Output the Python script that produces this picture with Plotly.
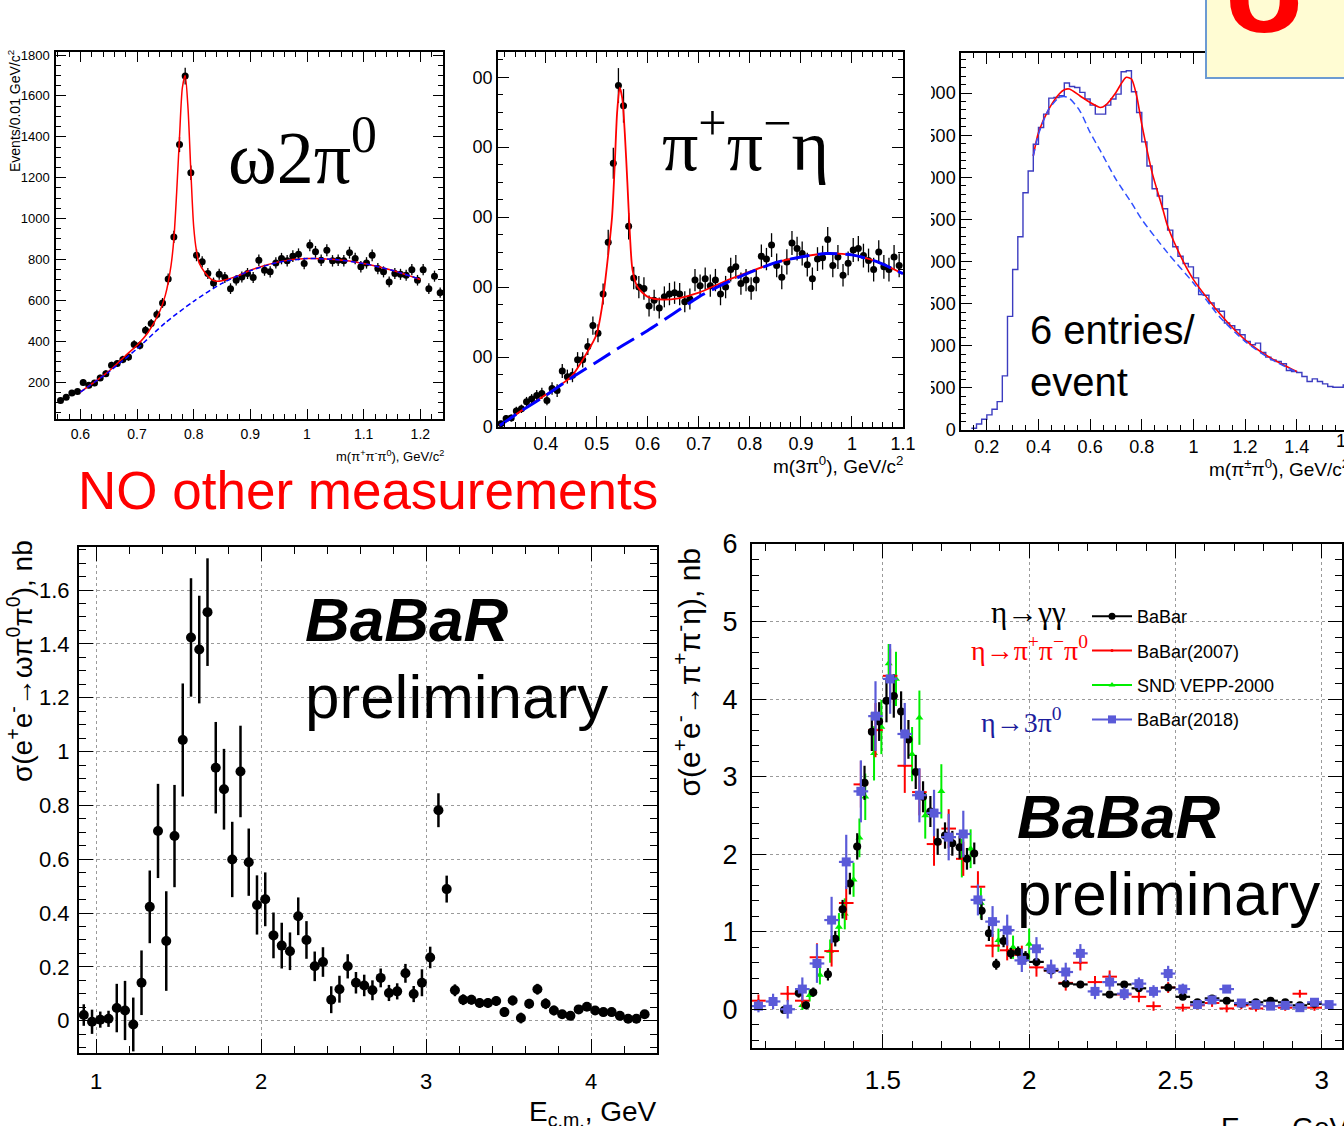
import plotly.graph_objects as go

W, H = 1344, 1126
def PX(px): return px / W
def PY(py): return 1 - py / H

SANS = "Liberation Sans, Arial"
SERIF = "Liberation Serif, Times New Roman"

# ---------------- Panel 1: m(pi+ pi- pi0) ----------------
p1_x = [round(0.565 + 0.01 * i, 3) for i in range(68)]
p1_y = [110,126,146,154,198,184,195,220,241,282,
        290,310,322,384,379,453,486,531,587,704,
        910,1362,1697,1224,820,788,731,685,727,711,
        657,698,714,731,711,796,747,739,783,804,
        793,816,825,780,869,837,796,845,793,796,
        793,833,804,764,783,820,755,739,690,731,
        727,722,750,698,750,657,718,637]
p1_err = [12,12,13,13,15,14,15,15,16,17,
          17,18,18,20,20,21,22,23,24,27,
          30,37,41,35,29,28,27,26,27,27,
          26,26,27,27,27,28,27,27,28,28,
          28,29,29,28,29,29,28,29,28,28,
          28,29,28,28,28,29,28,27,26,27,
          27,27,27,26,27,26,27,25]
p1_fit_x = [0.6,0.65,0.68,0.7,0.72,0.74,0.75,0.76,0.765,0.77,0.775,0.78,0.785,0.79,0.795,0.8,
            0.805,0.81,0.82,0.83,0.84,0.85,0.86,0.88,0.9,0.95,1.0,1.05,1.1,1.15,1.2]
p1_fit_y = [151,252,330,380,445,545,625,770,900,1130,1400,1640,1700,1540,1230,960,
            840,780,735,705,693,695,703,722,747,788,804,799,780,747,702]
p1_bkg_x = [0.6,0.65,0.7,0.75,0.8,0.85,0.9,0.95,1.0,1.05,1.1,1.15,1.2]
p1_bkg_y = [151,249,363,490,595,683,745,786,804,799,780,747,702]

# ---------------- Panel 2: m(3pi0) ----------------
p2_x = [round(0.3125 + 0.01 * i, 4) for i in range(79)]
p2_y = [4.8,12,13,23,26,36,40,45,48,38,
        55,52,80,72,74,96,96,115,145,134,
        190,264,377,488,459,287,213,200,198,173,
        181,170,186,190,192,190,179,183,210,202,
        212,202,210,190,200,225,229,205,210,198,
        210,244,240,260,231,214,236,263,255,248,
        232,212,240,242,268,231,243,217,234,253,
        255,245,238,225,250,229,225,243,231]
p2_err = [4,5,5,6,6,7,7,8,8,7,
          9,9,10,10,10,11,11,12,13,13,
          15,18,22,25,24,19,16,16,16,15,
          15,15,15,16,16,16,15,15,16,16,
          16,16,16,16,16,17,17,16,16,16,
          16,17,16,17,17,17,18,17,17,17,
          17,16,17,17,18,17,17,16,17,17,
          18,17,17,17,17,17,17,17,17]
p2_fit_x = [0.31,0.35,0.4,0.45,0.48,0.5,0.51,0.52,0.53,0.535,0.54,0.545,0.55,0.555,0.56,0.565,
            0.57,0.58,0.6,0.63,0.66,0.7,0.75,0.8,0.85,0.9,0.95,1.0,1.05,1.1]
p2_fit_y = [2,22,46,72,105,133,170,230,300,370,450,485,470,420,350,275,
            225,200,186,182,184,192,208,222,235,243,248,246,236,219]
p2_bkg_x = [0.31,0.35,0.4,0.45,0.5,0.55,0.6,0.65,0.7,0.75,0.8,0.85,0.9,0.95,1.0,1.05,1.1]
p2_bkg_y = [2,22,45,70,93,116,138,162,186,205,221,235,243,248,246,236,219]

# ---------------- Panel 3: m(pi+- pi0) histogram ----------------
p3_counts = [20,71,127,179,246,337,643,1349,1905,2294,
             2817,3075,3393,3591,3750,3940,3948,3968,4119,4079,
             4067,4008,3929,3857,3750,3750,3857,3929,3988,4254,
             4266,4016,3770,3421,3135,2865,2778,2627,2373,2175,
             2063,1976,1937,1806,1607,1599,1508,1437,1409,1270,
             1238,1190,1131,1052,1012,1032,921,865,833,813,
             786,706,694,683,635,575,607,575,548,516,
             508,508,536]
p3_edges = [round(0.14 + 0.02 * i, 2) for i in range(len(p3_counts) + 1)]
p3_fit_x = [0.38,0.4,0.44,0.48,0.5,0.52,0.56,0.6,0.64,0.66,0.7,0.72,0.74,0.76,0.78,0.8,
            0.84,0.88,0.9,0.96,1.0,1.1,1.2,1.3,1.4]
p3_fit_y = [3254,3532,3810,3990,4040,4048,3968,3889,3829,3857,4008,4110,4187,4167,3968,3631,
            3056,2639,2421,2004,1786,1389,1071,853,694]
p3_bkg_x = [0.38,0.4,0.44,0.48,0.5,0.52,0.56,0.6,0.64,0.7,0.76,0.8,0.9,1.0,1.1,1.2,1.3,1.4]
p3_bkg_y = [3254,3512,3810,3948,3960,3937,3790,3532,3313,2976,2698,2500,2103,1746,1349,1052,841,687]

# ---------------- Panel 4: sigma(ee -> omega pi0 pi0) ----------------
p4_x = [round(0.925 + 0.05 * i, 3) for i in range(69)]
p4_y = [0.021,-0.004,0.004,0.007,0.047,0.038,-0.014,0.141,0.423,0.705,
        0.296,0.686,1.043,1.424,1.379,1.518,0.940,0.860,0.599,0.926,
        0.589,0.430,0.451,0.317,0.279,0.258,0.388,0.300,0.202,0.218,
        0.078,0.117,0.202,0.141,0.131,0.113,0.159,0.103,0.109,0.176,
        0.099,0.141,0.235,0.782,0.489,0.113,0.078,0.078,0.066,0.066,
        0.073,0.032,0.075,0.010,0.063,0.117,0.063,0.038,0.024,0.018,
        0.042,0.052,0.038,0.032,0.032,0.018,0.007,0.007,0.024]
p4_err = [0.04,0.045,0.03,0.03,0.09,0.11,0.1,0.12,0.135,0.175,
          0.185,0.19,0.21,0.22,0.2,0.2,0.17,0.15,0.14,0.17,
          0.125,0.11,0.1,0.085,0.085,0.07,0.07,0.07,0.055,0.055,
          0.05,0.05,0.045,0.04,0.04,0.037,0.035,0.03,0.03,0.035,
          0.03,0.05,0.04,0.063,0.05,0.022,0.02,0.018,0.018,0.018,
          0.018,0.018,0.018,0.02,0.018,0.02,0.02,0.018,0.016,0.016,
          0.016,0.016,0.016,0.016,0.016,0.016,0.016,0.016,0.016]

# ---------------- Panel 5: sigma(ee -> pi+ pi- eta) ----------------
bb_x = [1.1625,1.2125,1.2375,1.2625,1.3125,
        1.3375,1.3625,1.3875,1.4125,1.4375,1.4625,1.4875,1.5125,1.5375,1.5625,1.5875,1.6125,1.6375,
        1.6625,1.6875,1.7125,1.7375,1.7625,1.7875,1.8125,1.8375,1.8625,1.8875,1.9125,1.9375,1.9625,1.9875,
        2.025,2.075,2.125,2.175,2.275,2.325,2.375,
        2.475,2.525,2.575,2.625,2.675,2.725,2.775,2.825,2.875,2.925,2.975]
bb_y = [-0.01,0.21,0.05,0.22,0.45,
        0.91,1.29,1.62,2.10,2.92,3.58,3.71,3.98,4.04,3.84,3.48,3.06,2.74,
        2.55,2.16,2.24,2.14,2.09,1.94,2.01,1.27,0.98,0.58,0.88,0.72,0.74,0.68,
        0.61,0.50,0.33,0.32,0.19,0.32,0.27,
        0.28,0.16,0.09,0.14,0.11,0.07,0.09,0.11,0.09,0.05,0.07]
bb_ey = [0.05,0.06,0.05,0.06,0.08,0.1,0.12,0.14,0.17,0.22,
         0.25,0.25,0.28,0.28,0.26,0.25,0.22,0.2,0.2,0.17,
         0.17,0.16,0.15,0.14,0.14,0.12,0.1,0.07,0.08,0.07,
         0.07,0.07,0.05,0.05,0.04,0.04,0.03,0.03,0.03,0.03,
         0.02,0.02,0.02,0.02,0.02,0.02,0.02,0.02,0.02,0.02]
bb_ex = [0.0125] * 32 + [0.025] * 18

b07_x = [1.075,1.175,1.225,1.275,1.325,1.375,1.425,1.475,1.525,1.575,
         1.625,1.675,1.725,1.775,1.825,1.875,1.925,1.975,2.025,2.075,
         2.125,2.175,2.225,2.275,2.325,2.375,2.425,2.475,2.525,2.575,
         2.625,2.675,2.725,2.775,2.825,2.875,2.925,2.975]
b07_y = [0.11,0.20,0.11,0.67,0.75,1.37,2.90,3.6,4.30,3.14,
         2.80,2.13,2.33,1.94,1.58,0.82,0.76,0.70,0.54,0.50,
         0.34,0.60,0.35,0.42,0.19,0.16,0.04,0.28,0.02,0.05,
         0.08,0.01,0.05,0.01,0.04,0.02,0.20,0.02]
b07_ey = [0.08,0.1,0.08,0.18,0.2,0.22,0.3,0.35,0.35,0.35,
          0.3,0.28,0.25,0.22,0.2,0.15,0.13,0.12,0.12,0.1,
          0.1,0.1,0.08,0.08,0.07,0.07,0.06,0.07,0.05,0.05,
          0.05,0.05,0.05,0.04,0.04,0.04,0.05,0.04]

snd_x = [1.225,1.25,1.285,1.32,1.35,1.37,1.40,1.42,1.44,1.47,1.495,1.52,
         1.545,1.60,1.625,1.645,1.70,1.77,1.80,1.835,1.895,1.945,2.0]
snd_y = [0.05,0.18,0.44,0.75,1.06,1.23,1.67,2.21,2.74,3.30,3.64,4.46,
         4.26,3.29,3.76,2.50,2.81,1.95,2.07,1.37,0.89,0.80,0.84]
snd_ey = [0.06,0.08,0.12,0.15,0.18,0.2,0.22,0.25,0.3,0.35,0.35,0.25,
          0.35,0.35,0.35,0.3,0.35,0.25,0.25,0.2,0.15,0.15,0.2]

b18_x = [1.075,1.125,1.175,1.225,1.275,1.325,1.375,1.425,1.475,1.525,
         1.575,1.625,1.675,1.725,1.775,1.825,1.875,1.925,1.975,2.025,
         2.075,2.125,2.175,2.225,2.275,2.325,2.375,2.425,2.475,2.525,
         2.575,2.625,2.675,2.725,2.775,2.825,2.875,2.925,2.975,3.025]
b18_y = [0.04,0.10,0.00,0.26,0.59,1.15,1.90,2.81,3.78,4.26,
         3.55,2.76,2.53,2.22,2.26,1.41,1.13,1.02,0.63,0.78,
         0.52,0.48,0.72,0.23,0.35,0.20,0.33,0.23,0.46,0.26,
         0.06,0.12,0.26,0.08,0.06,0.04,0.05,0.02,0.09,0.06]
b18_ey = [0.08,0.1,0.12,0.15,0.25,0.3,0.35,0.4,0.45,0.45,
          0.4,0.35,0.3,0.3,0.3,0.2,0.2,0.2,0.15,0.15,
          0.12,0.12,0.12,0.1,0.1,0.08,0.08,0.08,0.1,0.07,
          0.05,0.05,0.05,0.04,0.04,0.04,0.04,0.03,0.03,0.03]

legend_names = ["BaBar", "BaBar(2007)", "SND VEPP-2000", "BaBar(2018)"]
C_BLACK, C_RED, C_GREEN, C_BLUE = "black", "#ff0000", "#00ee00", "#5a5ad8"

fig = go.Figure()

def pts(x, y, ey, xa, ya, size=7, thick=1.3, color="black", symbol="circle", ex=None):
    d = dict(x=x, y=y, mode="markers", xaxis=xa, yaxis=ya, showlegend=False,
             marker=dict(color=color, size=size, symbol=symbol, line=dict(width=0)),
             error_y=dict(type="data", array=ey, color=color, thickness=thick, width=0))
    if ex is not None:
        d["error_x"] = dict(type="data", array=ex, color=color, thickness=thick, width=0)
    return go.Scatter(**d)

def curve(x, y, xa, ya, color, width=1.5, dash="solid"):
    return go.Scatter(x=x, y=y, mode="lines", xaxis=xa, yaxis=ya, showlegend=False,
                      line=dict(color=color, width=width, dash=dash, shape="spline", smoothing=0.7))

# panel 1
fig.add_trace(pts(p1_x, p1_y, p1_err, "x", "y"))
fig.add_trace(curve(p1_fit_x, p1_fit_y, "x", "y", "#ff0000"))
fig.add_trace(curve(p1_bkg_x, p1_bkg_y, "x", "y", "#0000ff", 1.5, "5px,3px"))
# panel 2
fig.add_trace(pts(p2_x, p2_y, p2_err, "x2", "y2"))
fig.add_trace(curve(p2_fit_x, p2_fit_y, "x2", "y2", "#ff0000", 1.8))
fig.add_trace(curve(p2_bkg_x, p2_bkg_y, "x2", "y2", "#0000ff", 3, "20px,8px"))
# panel 3
fig.add_trace(go.Scatter(x=p3_edges, y=p3_counts + [p3_counts[-1]], mode="lines", xaxis="x3", yaxis="y3",
                         showlegend=False, line=dict(color="#3c3cc0", width=1.4, shape="hv")))
fig.add_trace(curve(p3_fit_x, p3_fit_y, "x3", "y3", "#ff0000", 1.6))
fig.add_trace(curve(p3_bkg_x, p3_bkg_y, "x3", "y3", "#3050ff", 1.5, "7px,4px"))
# panel 4
fig.add_trace(pts(p4_x, p4_y, p4_err, "x4", "y4", size=10, thick=2.5))
# panel 5
fig.add_trace(pts(snd_x, snd_y, snd_ey, "x5", "y5", size=7, thick=2, color=C_GREEN, symbol="triangle-up"))
fig.add_trace(pts(b07_x, b07_y, b07_ey, "x5", "y5", size=3, thick=2, color=C_RED,
                  ex=[0.025] * len(b07_x)))
fig.add_trace(pts(bb_x, bb_y, bb_ey, "x5", "y5", size=8, thick=2.2, color=C_BLACK, ex=bb_ex))
fig.add_trace(pts(b18_x, b18_y, b18_ey, "x5", "y5", size=9, thick=2.2, color=C_BLUE, symbol="square",
                  ex=[0.025] * len(b18_x)))

# legend entries
for name, col, sym, sz, grp in zip(legend_names, [C_BLACK, C_RED, C_GREEN, C_BLUE],
                                   ["circle", "circle", "triangle-up", "square"], [7, 3, 6, 8],
                                   ["g1", "g2", "g3", "g4"]):
    fig.add_trace(go.Scatter(x=[None], y=[None], mode="lines+markers", name=name, xaxis="x5", yaxis="y5",
                             legendgroup=grp, line=dict(color=col, width=2),
                             marker=dict(color=col, symbol=sym, size=sz)))

AX = dict(showline=True, linecolor="black", mirror="allticks", ticks="inside", tickcolor="black",
          zeroline=False, showgrid=False, linewidth=1.5, tickwidth=1.2)

def minor(dt, t0, ln):
    return dict(ticks="inside", dtick=dt, tick0=t0, ticklen=ln, tickcolor="black", tickwidth=1, showgrid=False)

GRID = dict(showgrid=True, griddash="dot", gridcolor="#9a9a9a", gridwidth=1)

fig.update_layout(
    width=W, height=H, margin=dict(l=0, r=0, t=0, b=0, autoexpand=False),
    paper_bgcolor="white", plot_bgcolor="white",
    xaxis=dict(AX, domain=[PX(56), PX(443)], range=[0.557, 1.24], anchor="y",
               tick0=0.6, dtick=0.1, ticklen=10, minor=minor(0.02, 0.6, 5),
               tickfont=dict(family=SANS, size=14, color="black"), ticklabelstandoff=1),
    yaxis=dict(AX, domain=[PY(419), PY(52)], range=[19, 1815], anchor="x",
               tick0=0, dtick=200, ticklen=10, minor=minor(50, 0, 5),
               tickfont=dict(family=SANS, size=13, color="black"), ticklabelstandoff=2),
    xaxis2=dict(AX, domain=[PX(498), PX(903)], range=[0.3066, 1.1], anchor="y2",
                tick0=0.4, dtick=0.1, ticklen=11, minor=minor(0.02, 0.4, 5),
                tickfont=dict(family=SANS, size=18, color="black"), ticklabelstandoff=0),
    yaxis2=dict(AX, domain=[PY(427), PY(52)], range=[0, 536], anchor="x2",
                tick0=0, dtick=100, ticklen=11, minor=minor(25, 0, 5),
                tickfont=dict(family=SANS, size=18, color="black"), ticklabelstandoff=0),
    xaxis3=dict(AX, domain=[PX(961), 1.0], range=[0.1, 1.583], anchor="y3",
                tick0=0, dtick=0.2, ticklen=11, minor=minor(0.05, 0, 5),
                tickfont=dict(family=SANS, size=18, color="black"), ticklabelstandoff=0),
    yaxis3=dict(AX, domain=[PY(430), PY(53)], range=[0, 4476], anchor="x3", mirror=False,
                tick0=0, dtick=500, ticklen=11, minor=minor(100, 0, 5),
                tickfont=dict(family=SANS, size=18, color="black"), ticklabelstandoff=0),
    xaxis4=dict(AX, **GRID, domain=[PX(79), PX(657)], range=[0.896, 4.4], anchor="y4",
                tick0=0, dtick=1, ticklen=14, linewidth=2, minor=minor(0.2, 0, 7),
                tickfont=dict(family=SANS, size=22, color="black"), ticklabelstandoff=8),
    yaxis4=dict(AX, **GRID, domain=[PY(1053), PY(547)], range=[-0.12, 1.76], anchor="x4",
                tick0=0, dtick=0.2, ticklen=14, linewidth=2, minor=minor(0.05, 0, 7),
                tickfont=dict(family=SANS, size=22, color="black"), ticklabelstandoff=3),
    xaxis5=dict(AX, **GRID, domain=[PX(752), PX(1342)], range=[1.053, 3.069], anchor="y5",
                tick0=0, dtick=0.5, ticklen=14, linewidth=2, minor=minor(0.1, 0, 7),
                tickfont=dict(family=SANS, size=26, color="black"), ticklabelstandoff=8),
    yaxis5=dict(AX, **GRID, domain=[PY(1048), PY(544)], range=[-0.5, 6.0], anchor="x5",
                tick0=0, dtick=1, ticklen=14, linewidth=2, minor=minor(0.2, 0, 7),
                tickfont=dict(family=SANS, size=27, color="black"), ticklabelstandoff=7),
    legend=dict(x=PX(1087), y=PY(598), xanchor="left", yanchor="top", bgcolor="rgba(0,0,0,0)",
                font=dict(family=SANS, size=18, color="black"), itemwidth=40,
                tracegroupgap=8, traceorder="grouped"),
)

# covers for clipped tick labels and the yellow header box
fig.add_shape(type="rect", xref="paper", yref="paper", x0=PX(446), x1=PX(473), y0=PY(420), y1=PY(45),
              fillcolor="white", line=dict(width=0), layer="above")
fig.add_shape(type="rect", xref="paper", yref="paper", x0=PX(906), x1=PX(931), y0=PY(410), y1=PY(45),
              fillcolor="white", line=dict(width=0), layer="above")
fig.add_shape(type="rect", xref="paper", yref="paper", x0=PX(1206), x1=PX(1360), y0=PY(78), y1=PY(-20),
              fillcolor="#fffcd3", line=dict(color="#6c9bd2", width=2), layer="above")

def ann(text, px, py, size, family=SANS, color="black", xanchor="left", yanchor="middle", angle=0):
    fig.add_annotation(text=text, x=PX(px), y=PY(py), xref="paper", yref="paper", showarrow=False,
                       font=dict(family=family, size=size, color=color), xanchor=xanchor,
                       yanchor=yanchor, textangle=angle, align="left")

ann("ω2π<sup>0</sup>", 226, 153, 74, SERIF)
ann("π<sup>+</sup>π<sup>−</sup>η", 660, 141, 72, SERIF)
ann("6 entries/<br>event", 1028, 306, 40, yanchor="top")
ann("NO other measurements", 76, 491, 53, color="#ff0000")
ann("<b><i>BaBaR</i></b>", 303, 619, 62)
ann("preliminary", 303, 696, 62)
ann("<b><i>BaBaR</i></b>", 1015, 816, 62)
ann("preliminary", 1015, 893, 62)
ann("<b>σ</b>", 1269, 61, 128, color="#ff0000", xanchor="center", yanchor="bottom")

ann("Events/0.01 GeV/c<sup>2</sup>", 14, 48, 14, SANS, xanchor="center", yanchor="top", angle=-90)
ann("m(π<sup>+</sup>π<sup>-</sup>π<sup>0</sup>), GeV/c<sup>2</sup>", 446, 456, 13, SANS, xanchor="right")
ann("m(3π<sup>0</sup>), GeV/c<sup>2</sup>", 905, 465, 19, xanchor="right")
ann("m(π<sup>±</sup>π<sup>0</sup>), GeV/c<sup>2</sup>", 1207, 468, 19)
ann("1.6", 1348, 441, 18, xanchor="center")
ann("σ(e<sup>+</sup>e<sup>-</sup>→ωπ<sup>0</sup>π<sup>0</sup>), nb", 20, 538, 28, SANS,
    xanchor="center", yanchor="top", angle=-90)
ann("σ(e<sup>+</sup>e<sup>-</sup>→π<sup>+</sup>π<sup>-</sup>η), nb", 687, 546, 30, SANS,
    xanchor="center", yanchor="top", angle=-90)
ann("E<sub>c.m.</sub>, GeV", 659, 1094, 28, SANS, xanchor="right", yanchor="top")
ann("E<sub>c.m.</sub>, GeV", 1219, 1110, 28, SANS, yanchor="top")

ann("η→γγ", 1068, 612, 31, SERIF, xanchor="right")
ann("η→π<sup>+</sup>π<sup>−</sup>π<sup>0</sup>", 1090, 648, 28, SERIF, color="#ff0000", xanchor="right")
ann("η→3π<sup>0</sup>", 1064, 720, 28, SERIF, color="#1c1c9c", xanchor="right")

fig.write_html("out.html", config={"displayModeBar": False},
               post_script="document.body.style.margin='0';")
